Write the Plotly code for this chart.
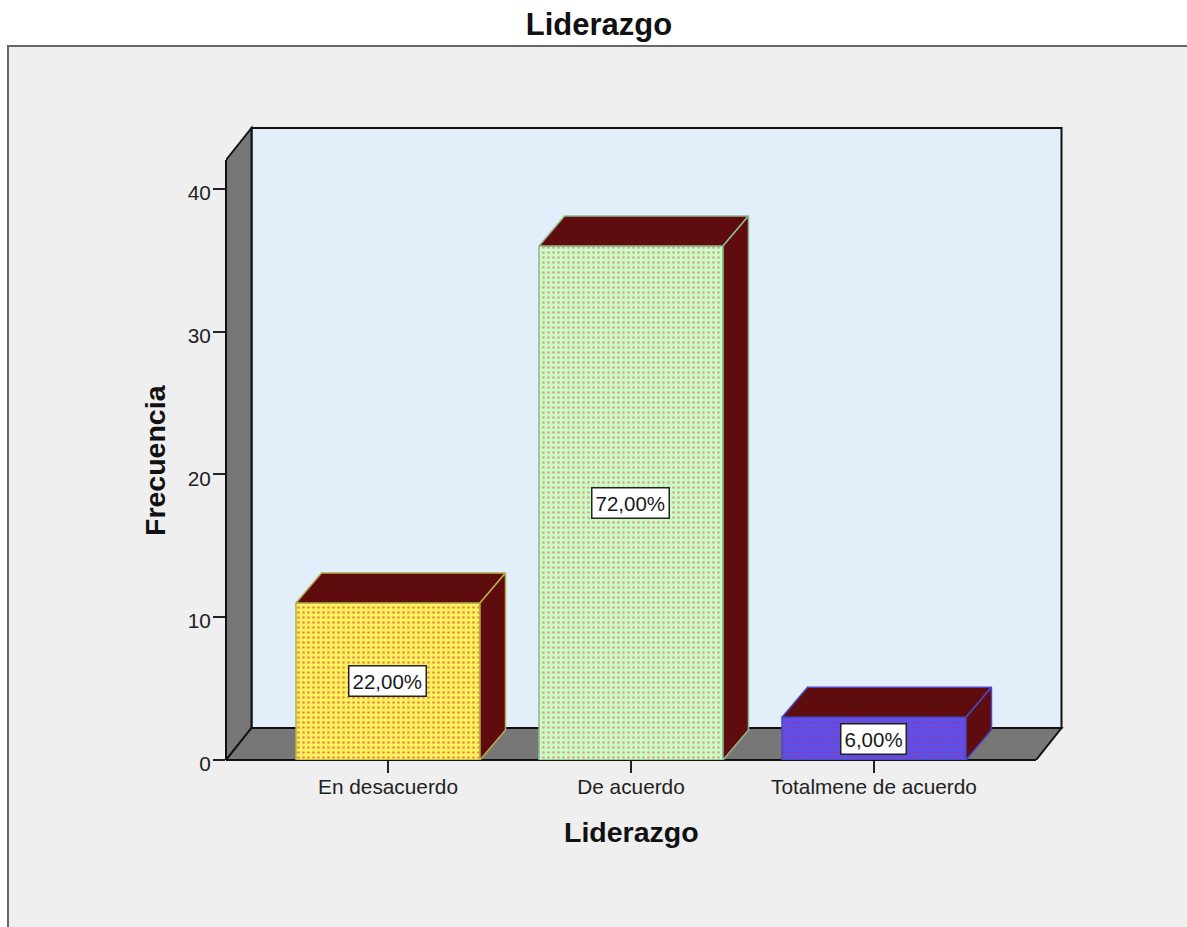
import plotly.graph_objects as go

# Chart data
categories = ["En desacuerdo", "De acuerdo", "Totalmene de acuerdo"]
frequencies = [11, 36, 3]
y_ticks = [0, 10, 20, 30, 40]
title_text = "Liderazgo"
y_title = "Frecuencia"

# Bar styling
front_colors = ["#fff35a", "#c8ffc0", "#5a50f0"]
dot_colors = ["#ea8a50", "#dca098", "#8a3fa0"]
edge_colors = ["#b5ad4a", "#8fb890", "#4a48c8"]
depth_color = "#5f0c0e"
wall_color = "#777777"
back_color = "#e2eefa"
panel_color = "#efefef"

# Plot area in page pixels, and the axis scale
PAGE_W, PAGE_H = 1187, 927
LEFT, RIGHT, TOP, BOTTOM = 226, 1070, 120, 760
X_UNIT = 243.0        # pixels per category
Y_UNIT = 14.28        # pixels per count
FIRST_CENTER = 388    # pixel centre of first category

x_min = (LEFT - FIRST_CENTER) / X_UNIT
x_max = (RIGHT - FIRST_CENTER) / X_UNIT
y_max = (BOTTOM - TOP) / Y_UNIT

BAR_WIDTH = 184 / X_UNIT
DX = 25.5 / X_UNIT     # oblique depth, horizontal
BAR_DY = 30 / Y_UNIT   # oblique depth of the bars
WALL_DY = 32 / Y_UNIT  # oblique depth of the frame
WALL_TOP = 600 / Y_UNIT
FLOOR_RIGHT = (1036 - FIRST_CENTER) / X_UNIT

total = sum(frequencies)
xs = list(range(len(categories)))


def poly(points):
    return "M" + " L".join(f"{x},{y}" for x, y in points) + " Z"


def to_paper(x, y):
    return (x - x_min) / (x_max - x_min), y / y_max


fig = go.Figure()

# Front faces, one trace per bar so each carries its own dot pattern
for x, v, fill, dots, edge in zip(xs, frequencies, front_colors, dot_colors, edge_colors):
    fig.add_trace(go.Bar(
        x=[x],
        y=[v],
        width=BAR_WIDTH,
        cliponaxis=False,
        showlegend=False,
        marker=dict(
            color=fill,
            line=dict(color=edge, width=1.5),
            pattern=dict(shape=".", size=5, solidity=0.22,
                         fgcolor=dots, fgopacity=1,
                         fillmode="overlay"),
        ),
    ))

# Top and side faces, derived from each bar's value
for x, v, edge in zip(xs, frequencies, edge_colors):
    l, r = x - BAR_WIDTH / 2, x + BAR_WIDTH / 2
    top_face = [(l, v), (r, v), (r + DX, v + BAR_DY), (l + DX, v + BAR_DY), (l, v)]
    side_face = [(r, 0), (r, v), (r + DX, v + BAR_DY), (r + DX, BAR_DY), (r, 0)]
    for face in (top_face, side_face):
        fig.add_trace(go.Scatter(
            x=[p[0] for p in face],
            y=[p[1] for p in face],
            mode="lines",
            fill="toself",
            fillcolor=depth_color,
            line=dict(color=edge, width=1.5),
            hoverinfo="skip",
            showlegend=False,
        ))

# Value labels in boxes
for x, v in zip(xs, frequencies):
    pct = f"{v / total * 100:.2f}".replace(".", ",") + "%"
    fig.add_annotation(
        x=x, y=v / 2, text=pct, showarrow=False, xshift=-1,
        font=dict(family="Liberation Sans", size=20.5, color="#1a1a1a"),
        bgcolor="#ffffff", bordercolor="#222222", borderwidth=1.5, borderpad=3,
    )

title_font = dict(family="Liberation Sans", size=28.5, color="#111111", weight="bold")

# Axis titles
fig.add_annotation(
    xref="x", yref="paper", x=1, y=(BOTTOM - 832) / (BOTTOM - TOP),
    xanchor="center", yanchor="middle",
    text=title_text, showarrow=False, font=title_font,
)
fig.add_annotation(
    xref="paper", yref="y", x=(155 - LEFT) / (RIGHT - LEFT), y=(BOTTOM - 460) / Y_UNIT,
    xanchor="center", yanchor="middle",
    text=y_title, textangle=-90, showarrow=False, font=title_font,
)

frame = dict(color="#111111", width=2)
back_x0 = x_min + DX
back_x1 = FLOOR_RIGHT + DX
back_y1 = WALL_TOP + WALL_DY

shapes = [
    # Outer panel
    dict(type="rect", xref="paper", yref="paper", layer="below",
         x0=(8 - LEFT) / (RIGHT - LEFT), x1=(PAGE_W + 20 - LEFT) / (RIGHT - LEFT),
         y0=(BOTTOM - PAGE_H - 20) / (BOTTOM - TOP), y1=(BOTTOM - 46) / (BOTTOM - TOP),
         fillcolor=panel_color, line=dict(color="#666666", width=2)),
    # Back wall
    dict(type="path", xref="x", yref="y", layer="below",
         path=poly([(back_x0, WALL_DY), (back_x1, WALL_DY), (back_x1, back_y1), (back_x0, back_y1)]),
         fillcolor=back_color, line=frame),
    # Side wall
    dict(type="path", xref="x", yref="y", layer="below",
         path=poly([(x_min, 0), (back_x0, WALL_DY), (back_x0, back_y1), (x_min, WALL_TOP)]),
         fillcolor=wall_color, line=frame),
    # Floor
    dict(type="path", xref="x", yref="y", layer="below",
         path=poly([(x_min, 0), (FLOOR_RIGHT, 0), (back_x1, WALL_DY), (back_x0, WALL_DY)]),
         fillcolor=wall_color, line=frame),
]

# Edges along the axes, which sit on the plot-area boundary
for a, b in (((x_min, 0), (x_min, WALL_TOP)), ((x_min, 0), (FLOOR_RIGHT, 0))):
    pa, pb = to_paper(*a), to_paper(*b)
    shapes.append(dict(type="line", xref="paper", yref="paper", layer="below",
                       x0=pa[0], y0=pa[1], x1=pb[0], y1=pb[1], line=frame))

tick_font = dict(family="Liberation Sans", size=20.8, color="#222222")

fig.update_layout(
    width=PAGE_W,
    height=PAGE_H,
    autosize=False,
    margin=dict(l=LEFT, r=PAGE_W - RIGHT, t=TOP, b=PAGE_H - BOTTOM, pad=0),
    paper_bgcolor="#ffffff",
    plot_bgcolor="rgba(0,0,0,0)",
    barmode="overlay",
    shapes=shapes,
    title=dict(
        text=title_text,
        x=599 / PAGE_W, xanchor="center",
        y=1 - 24 / PAGE_H, yanchor="middle",
        font=dict(family="Liberation Sans", size=31, color="#111111", weight="bold"),
    ),
    xaxis=dict(
        range=[x_min, x_max],
        tickmode="array",
        tickvals=xs,
        ticktext=categories,
        ticks="outside",
        ticklen=12,
        tickwidth=2,
        tickcolor="#222222",
        tickfont=tick_font,
        ticklabelstandoff=-4,
        showgrid=False,
        zeroline=False,
        showline=False,
    ),
    yaxis=dict(
        range=[0, y_max],
        tickmode="array",
        tickvals=y_ticks,
        ticks="outside",
        ticklen=12,
        tickwidth=2,
        tickcolor="#222222",
        tickfont=tick_font,
        ticklabelstandoff=-2,
        ticklabelshift=4,
        showgrid=False,
        zeroline=False,
        showline=False,
    ),
)

fig.write_html("out.html")
